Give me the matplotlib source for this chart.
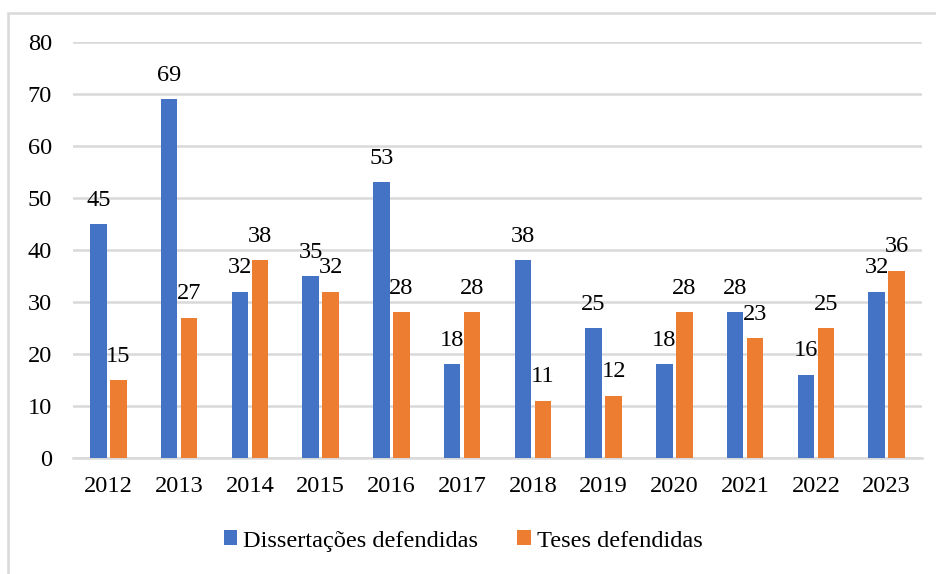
import matplotlib.pyplot as plt
import numpy as np
from matplotlib.patches import Rectangle

plt.rcParams['font.family'] = ['Liberation Serif', 'DejaVu Serif']

years = ['2012', '2013', '2014', '2015', '2016', '2017',
         '2018', '2019', '2020', '2021', '2022', '2023']
dissertacoes = [45, 69, 32, 35, 53, 18, 38, 25, 18, 28, 16, 32]
teses = [15, 27, 38, 32, 28, 28, 11, 12, 28, 23, 25, 36]
series_names = ['Dissertações defendidas', 'Teses defendidas']

blue = '#4472C4'
orange = '#ED7D31'
grid_col = '#D9D9D9'
fs = 17.6

W, H = 936, 574
fig = plt.figure(figsize=(W / 100, H / 100), dpi=100)

# outer chart border (cut off at right and bottom like the screenshot)
fig.patches.append(Rectangle((8 / W, -0.1), 1.2, 1 - 13 / H + 0.1,
                             transform=fig.transFigure, fill=False,
                             edgecolor=grid_col, linewidth=1.8))

ax = fig.add_axes([73 / W, 1 - 458 / H, (922 - 73) / W, (458 - 42) / H])

x = np.arange(len(years))
bw = 0.235
off = 0.142
b1 = ax.bar(x - off, dissertacoes, bw, color=blue, label=series_names[0], zorder=3)
b2 = ax.bar(x + off, teses, bw, color=orange, label=series_names[1], zorder=3)

for bars in (b1, b2):
    for r in bars:
        ax.annotate(f'{int(r.get_height())}',
                    (r.get_x() + r.get_width() / 2, r.get_height()),
                    xytext=(0, 13.2), textcoords='offset points',
                    ha='center', va='baseline', fontsize=fs, color='black')

ax.set_xlim(-0.5, len(years) - 0.5)
ax.set_ylim(0, 80)
ax.set_yticks(range(0, 81, 10))
ax.set_xticks(x)
ax.set_xticklabels(years)
ax.tick_params(axis='both', length=0, labelsize=fs, colors='black')
ax.tick_params(axis='y', pad=15)
ax.tick_params(axis='x', pad=13)
ax.yaxis.grid(True, color=grid_col, linewidth=1.8, zorder=0)
ax.set_axisbelow(True)
for s in ['top', 'right', 'left']:
    ax.spines[s].set_visible(False)
ax.spines['bottom'].set_color(grid_col)
ax.spines['bottom'].set_linewidth(1.8)

fig.legend(handles=[b1, b2], loc='center', bbox_to_anchor=(463 / W, 1 - 541 / H),
           ncol=2, frameon=False, fontsize=fs, handlelength=0.55,
           handleheight=0.55, handletextpad=0.25, columnspacing=1.6)

fig.savefig('out.png', dpi=100)
